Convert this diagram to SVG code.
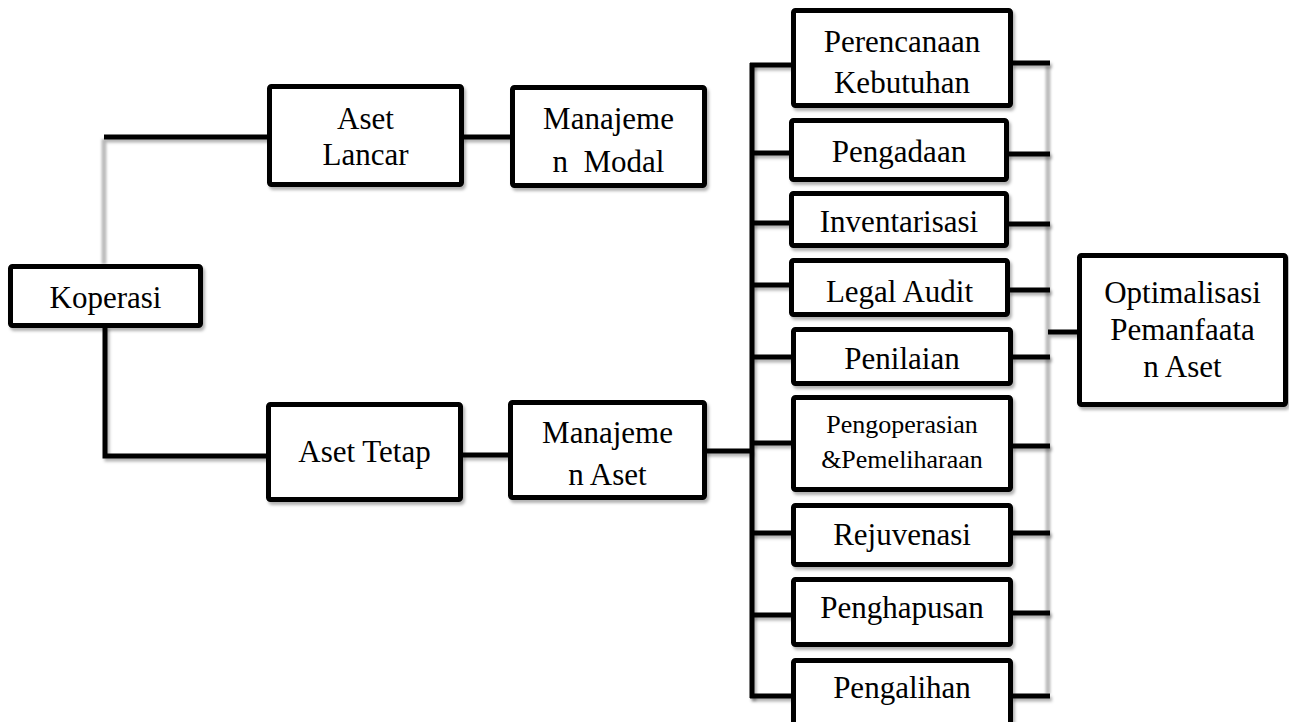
<svg xmlns="http://www.w3.org/2000/svg" width="1289" height="722" viewBox="0 0 1289 722">
<defs>
<filter id="sh" filterUnits="userSpaceOnUse" x="0" y="0" width="1289" height="722">
<feDropShadow dx="2" dy="3" stdDeviation="1.5" flood-color="#000" flood-opacity="0.3"/>
</filter>
<filter id="blur" filterUnits="userSpaceOnUse" x="0" y="0" width="1289" height="722">
<feGaussianBlur stdDeviation="1"/>
</filter>
</defs>
<style>
.box{fill:#fff;stroke:#000;stroke-width:5;filter:url(#sh)}
.ln{fill:none;stroke:#000;stroke-width:5;stroke-linecap:butt;stroke-linejoin:miter;filter:url(#sh)}
.gr{fill:none;stroke:#bdbdbd;stroke-width:5;filter:url(#blur)}
text{font-family:"Liberation Serif","Times New Roman",serif;font-size:31px;fill:#000;text-anchor:middle}
.sm{font-size:26px}
</style>
<rect width="1289" height="722" fill="#fff"/>
<g id="connectors">
<path class="gr" d="M104,139 V264"/>
<path class="gr" d="M1048,66 V694"/>
<path class="ln" d="M104,137 H269"/>
<path class="ln" d="M105,326 V456 H268"/>
<path class="ln" d="M462,137 H512"/>
<path class="ln" d="M461,455 H510"/>
<path class="ln" d="M705,451 H752"/>
<path class="ln" d="M752,63 V698"/>
<path class="ln" d="M750,65 H793"/>
<path class="ln" d="M752,153 H791"/>
<path class="ln" d="M752,223 H791"/>
<path class="ln" d="M752,285 H791"/>
<path class="ln" d="M752,357 H793"/>
<path class="ln" d="M752,443 H793"/>
<path class="ln" d="M752,533 H793"/>
<path class="ln" d="M752,615 H793"/>
<path class="ln" d="M750,696 H793"/>
<path class="ln" d="M1011,63 H1050"/>
<path class="ln" d="M1007,154 H1050"/>
<path class="ln" d="M1007,224 H1050"/>
<path class="ln" d="M1008,290 H1050"/>
<path class="ln" d="M1011,357 H1050"/>
<path class="ln" d="M1011,446 H1050"/>
<path class="ln" d="M1011,533 H1050"/>
<path class="ln" d="M1011,613 H1050"/>
<path class="ln" d="M1011,696 H1050"/>
<path class="ln" d="M1048,332 H1079"/>
</g>
<g id="koperasi"><rect class="box" x="10.5" y="266.5" width="190" height="59" rx="2"/><text x="105.5" y="308">Koperasi</text></g>
<g id="aset-lancar"><rect class="box" x="269.5" y="86.5" width="192" height="98" rx="2"/><text x="365.5" y="129">Aset</text><text x="365.5" y="165">Lancar</text></g>
<g id="manajemen-modal"><rect class="box" x="512.5" y="87.5" width="192" height="98" rx="2"/><text x="608.5" y="129">Manajeme</text><text x="608.5" y="172" xml:space="preserve">n  Modal</text></g>
<g id="aset-tetap"><rect class="box" x="268.5" y="404.5" width="192" height="95" rx="2"/><text x="364.5" y="462">Aset Tetap</text></g>
<g id="manajemen-aset"><rect class="box" x="510.5" y="402.5" width="194" height="95" rx="2"/><text x="607.5" y="443">Manajeme</text><text x="607.5" y="485">n Aset</text></g>
<g id="perencanaan"><rect class="box" x="793.5" y="10.5" width="217" height="95" rx="2"/><text x="902" y="52">Perencanaan</text><text x="902" y="93">Kebutuhan</text></g>
<g id="pengadaan"><rect class="box" x="791.5" y="120.5" width="215" height="59" rx="2"/><text x="899" y="162">Pengadaan</text></g>
<g id="inventarisasi"><rect class="box" x="791.5" y="193.5" width="215" height="52" rx="2"/><text x="899" y="232">Inventarisasi</text></g>
<g id="legal-audit"><rect class="box" x="791.5" y="260.5" width="216" height="54" rx="2"/><text x="899.5" y="302">Legal Audit</text></g>
<g id="penilaian"><rect class="box" x="793.5" y="329.5" width="217" height="54" rx="2"/><text x="902" y="369">Penilaian</text></g>
<g id="pengoperasian"><rect class="box" x="793.5" y="397.5" width="217" height="92" rx="2"/><text class="sm" x="902" y="433">Pengoperasian</text><text class="sm" x="902" y="468">&amp;Pemeliharaan</text></g>
<g id="rejuvenasi"><rect class="box" x="793.5" y="505.5" width="217" height="59" rx="2"/><text x="902" y="545">Rejuvenasi</text></g>
<g id="penghapusan"><rect class="box" x="793.5" y="579.5" width="217" height="65" rx="2"/><text x="902" y="618">Penghapusan</text></g>
<g id="pengalihan"><rect class="box" x="793.5" y="660.5" width="217" height="64" rx="2"/><text x="902" y="698">Pengalihan</text></g>
<g id="optimalisasi"><rect class="box" x="1079.5" y="255.5" width="206" height="149" rx="2"/><text x="1182.5" y="303">Optimalisasi</text><text x="1182.5" y="340">Pemanfaata</text><text x="1182.5" y="377">n Aset</text></g>
</svg>
